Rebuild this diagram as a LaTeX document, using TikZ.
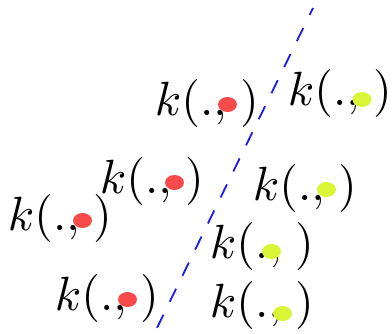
\documentclass[tikz,border=0pt]{standalone}
\usepackage{tikz}
\usetikzlibrary{shapes.geometric}
\definecolor{DotRed}{HTML}{F74B4B}
\definecolor{DotLime}{HTML}{D8F536}
\definecolor{CutBlue}{HTML}{1A1AF0}

\begin{document}
\begin{tikzpicture}[
    x=1pt, y=-1pt,
    kernel/.style={scale=4.8, inner sep=0pt, anchor=base west},
    reddot/.style={ellipse, fill=DotRed, inner sep=0pt, minimum width=19pt, minimum height=15pt},
    limedot/.style={ellipse, fill=DotLime, inner sep=0pt, minimum width=19pt, minimum height=15pt},
    cut/.style={draw=CutBlue, line width=1.8pt, dash pattern=on 14.5pt off 14.5pt, dash phase=6.7pt}
]
\useasboundingbox (0,0) rectangle (392,333);
\coordinate (ltop) at (313,8);
\coordinate (lbot) at (154.5,333);
\draw[cut] (ltop) -- (lbot);

\node[kernel] (k1) at (154,115) {$k(.,\mskip2mu)$};
\node[kernel] (k2) at (287,105) {$k(.,\mskip2mu)$};
\node[kernel] (k3) at (99,193) {$k(.,\mskip2mu)$};
\node[kernel] (k4) at (7,230) {$k(.,\mskip2mu)$};
\node[kernel] (k5) at (252,200) {$k(.,\mskip2mu)$};
\node[kernel] (k6) at (209,258) {$k(.,\mskip2mu)$};
\node[kernel] (k7) at (54,310) {$k(.,\mskip2mu)$};
\node[kernel] (k8) at (209,317) {$k(.,\mskip2mu)$};

\node[reddot] (d1) at (227.5,104.5) {};
\node[limedot] (d2) at (362,99.5) {};
\node[reddot] (d3) at (174.5,182.5) {};
\node[reddot] (d4) at (82.5,220.5) {};
\node[limedot] (d5) at (326.5,189.5) {};
\node[limedot] (d6) at (271.5,251.5) {};
\node[reddot] (d7) at (127.5,299.5) {};
\node[limedot] (d8) at (282.5,313.5) {};
\end{tikzpicture}
\end{document}
